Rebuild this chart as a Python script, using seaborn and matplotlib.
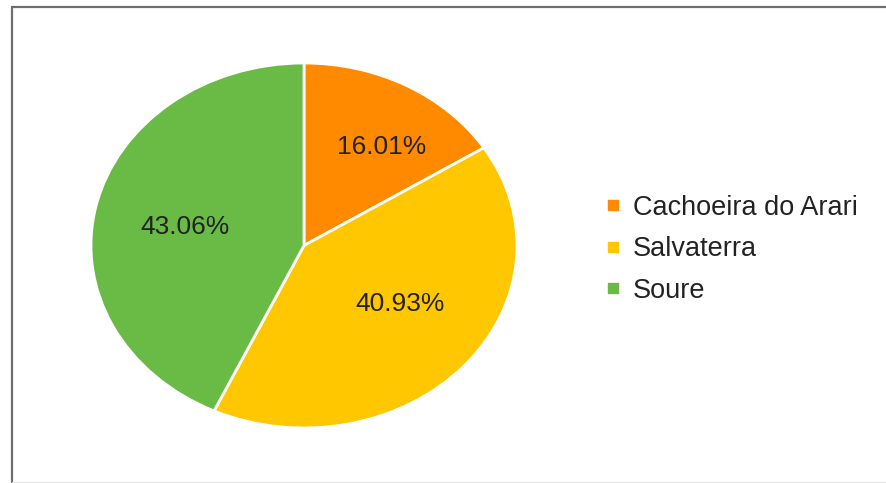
import matplotlib
matplotlib.use("Agg")
import matplotlib.pyplot as plt
from matplotlib.lines import Line2D
import seaborn as sns

# Share of each municipality
municipios = ["Cachoeira do Arari", "Salvaterra", "Soure"]
percentuais = [16.01, 40.93, 43.06]
cores = ["#FF8A00", "#FFC700", "#6ABB46"]

# Where each percentage label sits inside its slice (axes data units)
posicoes_rotulos = [(0.366, 0.538), (0.45, -0.319), (-0.559, 0.104)]

sns.set_theme(style="white")
plt.rcParams["font.family"] = ["Liberation Sans", "DejaVu Sans"]

fig = plt.figure(figsize=(8.86, 4.83), dpi=100)
fig.patch.set_facecolor("white")

# Pie axes, stretched slightly wider than tall
ax = fig.add_axes([0.1027, 0.1139, 0.4808, 0.7557])
palette = sns.color_palette(cores)
wedges, texts, autotexts = ax.pie(
    percentuais,
    colors=palette,
    startangle=90,
    counterclock=False,
    autopct=lambda p: f"{p:.2f}%",
    pctdistance=0.6,
    wedgeprops=dict(edgecolor="white", linewidth=2),
    textprops=dict(fontsize=19, color="#222222"),
)
for t, pos in zip(autotexts, posicoes_rotulos):
    t.set_position(pos)
ax.set_aspect("auto")
ax.set_xlim(-1, 1)
ax.set_ylim(-1, 1)
ax.axis("off")

# Legend with small square markers
handles = [Line2D([0], [0], marker="s", linestyle="none", markersize=7,
                  markerfacecolor=c, markeredgecolor=c) for c in palette]
fig.legend(handles, municipios, loc="center left",
           bbox_to_anchor=(0.652, 0.484), frameon=False,
           fontsize=19.5, labelcolor="#222222", handletextpad=0.35,
           labelspacing=0.58, handlelength=0.8)

# Outer frame
frame_kw = dict(color="#6E6E6E", linewidth=1.6, transform=fig.transFigure)
fig.add_artist(Line2D([12 / 886, 12 / 886], [1 - 7 / 483, 0], **frame_kw))
fig.add_artist(Line2D([12 / 886, 1], [1 - 7 / 483, 1 - 7 / 483], **frame_kw))
fig.add_artist(Line2D([12 / 886, 1], [1 / 483, 1 / 483], color="#E6E6E6",
                      linewidth=1.0, transform=fig.transFigure))

fig.savefig("out.png", dpi=100, facecolor="white")
